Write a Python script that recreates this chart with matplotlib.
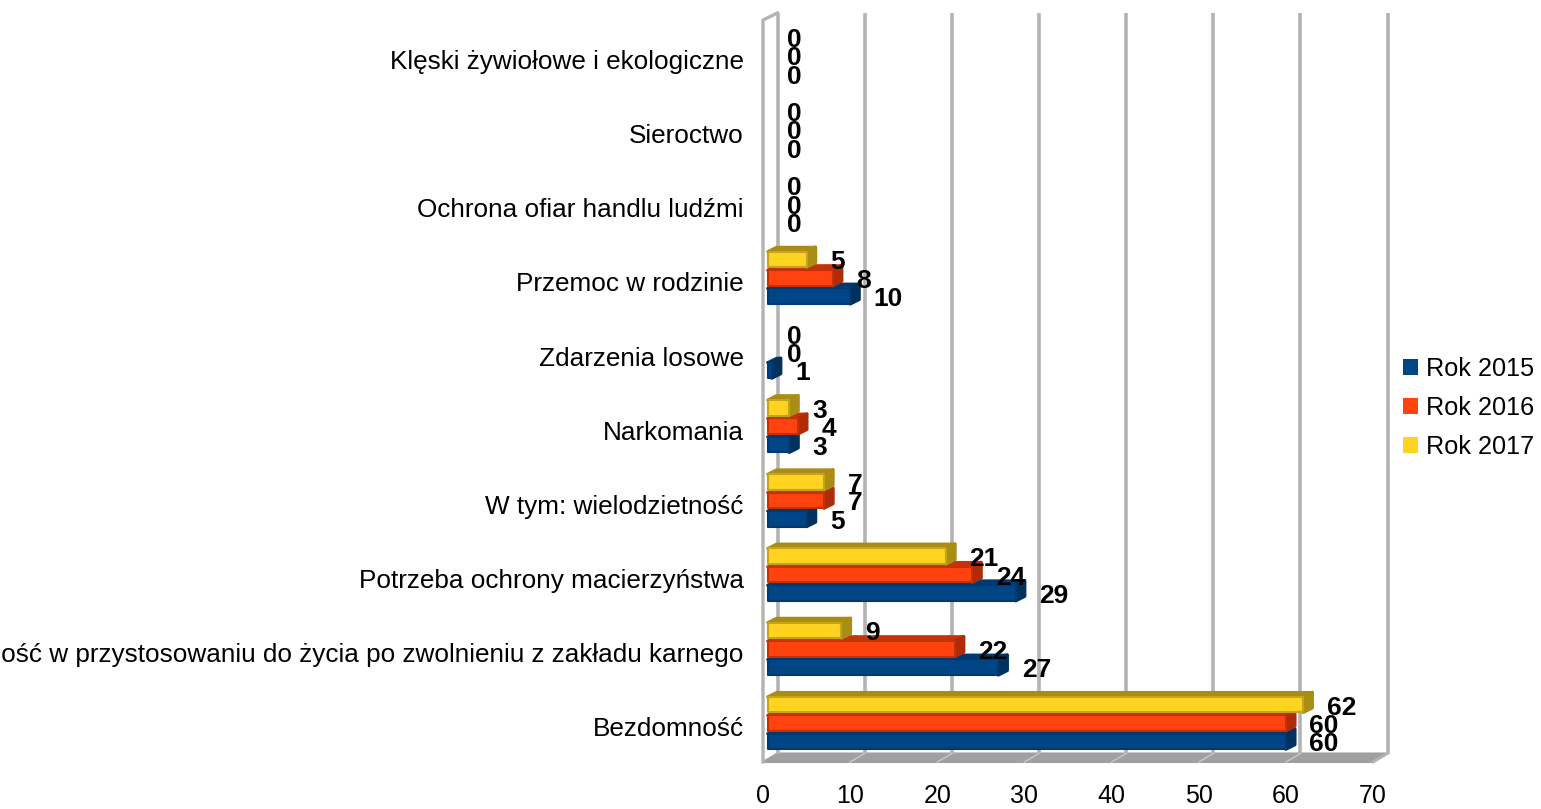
import matplotlib
matplotlib.use("Agg")
import matplotlib.pyplot as plt
from matplotlib.patches import Polygon, Patch
from matplotlib.transforms import ScaledTranslation

plt.rcParams['font.family'] = ['Liberation Sans', 'DejaVu Sans']

categories = ["Bezdomność",
              "Trudność w przystosowaniu do życia po zwolnieniu z zakładu karnego",
              "Potrzeba ochrony macierzyństwa", "W tym: wielodzietność", "Narkomania",
              "Zdarzenia losowe", "Przemoc w rodzinie", "Ochrona ofiar handlu ludźmi",
              "Sieroctwo", "Klęski żywiołowe i ekologiczne"]
rok_2015 = [60, 27, 29, 5, 3, 1, 10, 0, 0, 0]
rok_2016 = [60, 22, 24, 7, 4, 0, 8, 0, 0, 0]
rok_2017 = [62, 9, 21, 7, 3, 0, 5, 0, 0, 0]
series_names = ["Rok 2015", "Rok 2016", "Rok 2017"]
x_ticks = [0, 10, 20, 30, 40, 50, 60, 70]

W, H = 1541, 809
fig = plt.figure(figsize=(W / 100, H / 100), dpi=100, facecolor='white')
# front plane of the 3D box, in pixels
px_l, px_r, px_t, px_b = 763, 1373, 20, 762
ax = fig.add_axes([px_l / W, 1 - px_b / H, (px_r - px_l) / W, (px_b - px_t) / H])
ppx = (px_r - px_l) / 70            # pixels per value unit
ppy = 74.2                          # pixels per category
y0 = (px_b - 723) / ppy
ax.set_xlim(0, 70)
ax.set_ylim(-y0, -y0 + (px_b - px_t) / ppy)
ax.patch.set_alpha(0)
for s in ax.spines.values():
    s.set_visible(False)

ux, uy = 1 / ppx, 1 / ppy
GRID = '#b3b3b3'
ymin, ymax = ax.get_ylim()
wall_dx, wall_dy = 14.5 * ux, 8.5 * uy
top_back = ymax + 7 * uy

# floor
ax.add_patch(Polygon([(0, ymin), (70, ymin), (70 + wall_dx, ymin + wall_dy), (wall_dx, ymin + wall_dy)],
                     closed=True, fc='#a0a0a0', ec='#a0a0a0', lw=1.5, clip_on=False, zorder=1))
# left wall outline, back grid lines
ax.plot([0, 0, wall_dx], [ymin, ymax, top_back], color=GRID, lw=2.4, clip_on=False, zorder=2,
        solid_joinstyle='round')
ax.vlines([v + wall_dx for v in x_ticks], ymin + wall_dy, top_back, color=GRID, lw=2.6,
          clip_on=False, zorder=2)
for v in x_ticks[1:-1]:
    ax.plot([v, v + wall_dx], [ymin, ymin + wall_dy], color='#c8c8c8', lw=1, clip_on=False, zorder=2)
ax.plot([70, 70 + wall_dx], [ymin, ymin + wall_dy], color=GRID, lw=2, clip_on=False, zorder=2)

colors = ['#004586', '#ff420e', '#ffd320']
edges = ['#003a70', '#c23208', '#c4a41a']
sides = ['#00315f', '#b02c08', '#a98d14']
tops = ['#003a70', '#c53308', '#a88c14']
bar_h = 15.5 * uy
step = 18.4 * uy
inset = 4.5 * ux
dx, dy = 9 * ux, 4.5 * uy

series = [rok_2015, rok_2016, rok_2017]
for k, (vals, name) in enumerate(zip(series, series_names)):
    off = (k - 1) * step
    z = 3 + k
    for i, v in enumerate(vals):
        yc = i + off
        # data label, also for zero values
        ax.annotate(str(v), (v, yc), xytext=(17, -2.2), textcoords='offset points',
                    fontsize=19, fontweight='bold', color='black', ha='left', va='center',
                    zorder=10, annotation_clip=False)
        if v == 0:
            continue
        yb, yt = yc - bar_h / 2, yc + bar_h / 2
        ax.add_patch(Polygon([(inset, yt), (v, yt), (v + dx, yt + dy), (inset + dx, yt + dy)], closed=True,
                             fc=tops[k], ec=tops[k], lw=2, joinstyle='round', zorder=z))
        ax.add_patch(Polygon([(v, yb), (v + dx, yb + dy), (v + dx, yt + dy), (v, yt)], closed=True,
                             fc=sides[k], ec=sides[k], lw=2.4, joinstyle='round', zorder=z))
        ax.barh(i + off, v - inset, left=inset, height=bar_h, color=colors[k], edgecolor=edges[k],
                linewidth=1.5, joinstyle='round', zorder=z + 0.5)

ax.set_yticks(range(len(categories)))
ax.set_yticklabels(categories, fontsize=18.8, color='black')
ax.set_xticks(x_ticks)
ax.set_xticklabels([str(t) for t in x_ticks], fontsize=18, color='black')
ax.tick_params(axis='both', length=0)
ax.tick_params(axis='y', pad=14)
ax.tick_params(axis='x', pad=16)
shift = ScaledTranslation(0, -4 / 100, fig.dpi_scale_trans)
for lab in ax.get_yticklabels():
    lab.set_transform(lab.get_transform() + shift)

handles = [Patch(fc=c, ec='none', label=n) for c, n in zip(colors, series_names)]
fig.legend(handles=handles, loc='upper left', bbox_to_anchor=(1403 / W, 1 - 357 / H), frameon=False,
           fontsize=18.2, handlelength=0.6, handleheight=0.6, handletextpad=0.32, labelspacing=0.6,
           borderpad=0, borderaxespad=0)

fig.savefig('out.png', dpi=100)
